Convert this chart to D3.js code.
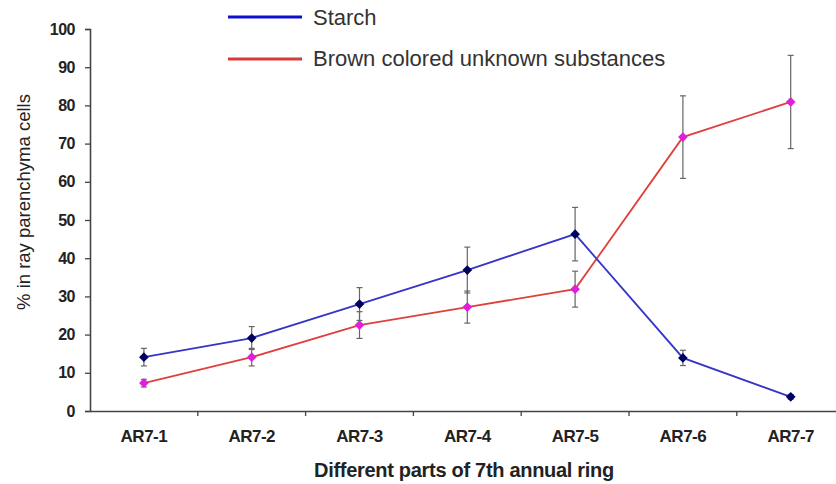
<!DOCTYPE html>
<html>
<head>
<meta charset="utf-8">
<script src="https://cdn.jsdelivr.net/npm/d3@7"></script>
<style>
  body { margin: 0; background: #fff; }
  text { font-family: "Liberation Sans", Arial, sans-serif; }
</style>
</head>
<body>
<script>
// 数据
var categories = ["AR7-1", "AR7-2", "AR7-3", "AR7-4", "AR7-5", "AR7-6", "AR7-7"];
var starch = [14.1, 19.1, 28.0, 36.9, 46.3, 13.9, 3.7];
var starch_err = [2.3, 3.0, 4.3, 6.0, 7.0, 2.0, 0.6];
var brown = [7.3, 14.1, 22.5, 27.2, 31.9, 71.7, 80.9];
var brown_err = [1.0, 2.3, 3.5, 4.2, 4.7, 10.8, 12.2];
var y_ticks = [0, 10, 20, 30, 40, 50, 60, 70, 80, 90, 100];
var series_names = ["Starch", "Brown colored unknown substances"];

// 常量定义
var svg_width = 836;
var svg_height = 484;
var plot_left = 90;
var plot_top = 29;
var plot_bottom = 411;
var band = 107.8;
var font = "Liberation Sans, Arial, sans-serif";

var svg = d3.select("body").append("svg")
    .attr("width", svg_width).attr("height", svg_height);

var x = d3.scaleBand().domain(categories)
    .range([plot_left, plot_left + band * categories.length]).padding(0);
var y = d3.scaleLinear().domain([0, 100]).range([plot_bottom, plot_top]);

// y 轴
var yAxis = d3.axisLeft(y).tickValues(y_ticks).tickSize(5).tickPadding(10);
var gy = svg.append("g").attr("transform", "translate(" + plot_left + ",0)").call(yAxis);
gy.select(".domain").attr("stroke", "#444").attr("stroke-width", 1.6);
gy.selectAll(".tick line").attr("stroke", "#444").attr("stroke-width", 1.3);
gy.selectAll(".tick text").attr("font-size", 16).attr("font-weight", "bold").attr("fill", "#222")
    .attr("letter-spacing", -0.5).attr("font-family", font);

// x 轴
var gx = svg.append("g").attr("transform", "translate(0," + plot_bottom + ")")
    .call(d3.axisBottom(x).tickSize(0).tickSizeOuter(0).tickPadding(19));
gx.select(".domain").attr("stroke", "#444").attr("stroke-width", 1.6);
gx.selectAll(".tick text").attr("font-size", 17).attr("font-weight", "bold").attr("fill", "#222")
    .attr("letter-spacing", -0.5).attr("font-family", font);
// ticks between categories
gx.selectAll(".sep").data(categories.slice(1)).enter().append("line")
    .attr("x1", function(d) { return x(d); }).attr("x2", function(d) { return x(d); })
    .attr("y1", 0).attr("y2", 5).attr("stroke", "#444").attr("stroke-width", 1.3);

// 标题
svg.append("text").attr("x", 464).attr("y", 477).attr("text-anchor", "middle")
    .attr("font-size", 20).attr("font-weight", "bold").attr("fill", "#222").attr("letter-spacing", -0.3)
    .text("Different parts of 7th annual ring");
svg.append("text").attr("transform", "translate(30,202) rotate(-90)").attr("text-anchor", "middle")
    .attr("font-size", 18.5).attr("fill", "#222")
    .text("% in ray parenchyma cells");

function cx(i) { return x(categories[i]) + x.bandwidth() / 2; }

function draw_series(vals, errs, line_color, marker_color) {
    var g = svg.append("g");
    var line = d3.line().x(function(d, i) { return cx(i); }).y(function(d) { return y(d); });
    g.append("path").datum(vals).attr("d", line).attr("fill", "none")
        .attr("stroke", line_color).attr("stroke-width", 1.8);
    var eb = g.selectAll(".eb").data(vals).enter().append("g");
    eb.append("line").attr("x1", function(d, i) { return cx(i); }).attr("x2", function(d, i) { return cx(i); })
        .attr("y1", function(d, i) { return y(d + errs[i]); }).attr("y2", function(d, i) { return y(d - errs[i]); })
        .attr("stroke", "#666").attr("stroke-width", 1.2);
    [1, -1].forEach(function(s) {
        eb.append("line").attr("x1", function(d, i) { return cx(i) - 3; }).attr("x2", function(d, i) { return cx(i) + 3; })
            .attr("y1", function(d, i) { return y(d + s * errs[i]); }).attr("y2", function(d, i) { return y(d + s * errs[i]); })
            .attr("stroke", "#666").attr("stroke-width", 1.2);
    });
    g.selectAll(".mk").data(vals).enter().append("path")
        .attr("d", d3.symbol().type(d3.symbolDiamond2).size(60))
        .attr("transform", function(d, i) { return "translate(" + cx(i) + "," + y(d) + ")"; })
        .attr("fill", marker_color);
}

draw_series(brown, brown_err, "#e0403c", "#e020d8");
draw_series(starch, starch_err, "#3535c8", "#000060");

// 图例
var legend = [[series_names[0], "#1010cc", 17, 25], [series_names[1], "#d83a3a", 59, 66]];
legend.forEach(function(l) {
    svg.append("line").attr("x1", 228).attr("x2", 302).attr("y1", l[2]).attr("y2", l[2])
        .attr("stroke", l[1]).attr("stroke-width", 3);
    svg.append("text").attr("x", 313).attr("y", l[3]).attr("font-size", 22).attr("fill", "#333")
        .text(l[0]);
});
</script>
</body>
</html>
